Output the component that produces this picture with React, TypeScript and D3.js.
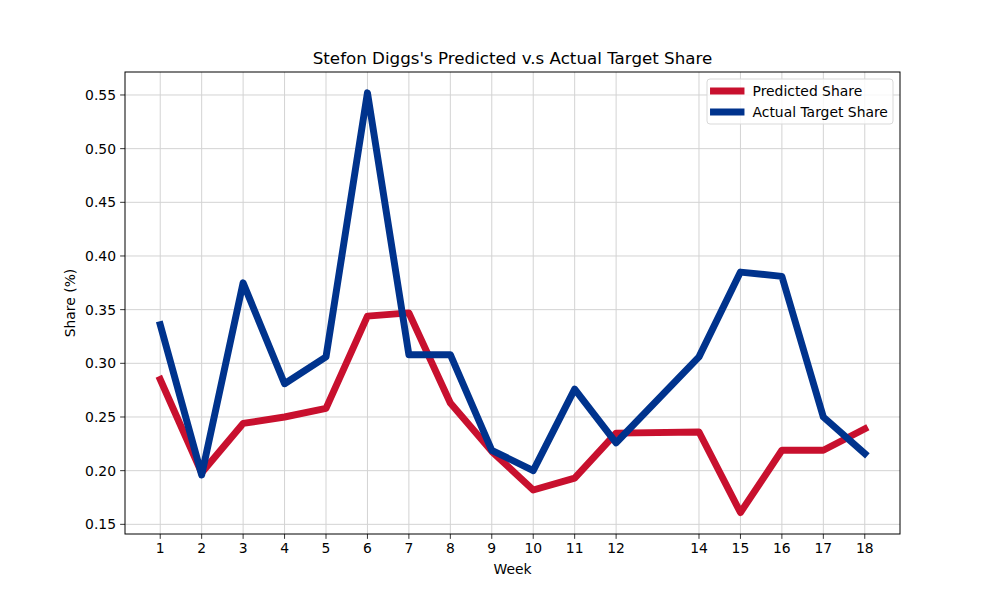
import React from "react";
import * as d3 from "d3";

const weeks = [1, 2, 3, 4, 5, 6, 7, 8, 9, 10, 11, 12, 14, 15, 16, 17, 18];
const predicted = [0.285, 0.198, 0.244, 0.25, 0.258, 0.344, 0.347, 0.263, 0.218, 0.182, 0.193, 0.235, 0.236, 0.161, 0.219, 0.219, 0.239];
const actual = [0.336, 0.196, 0.375, 0.281, 0.306, 0.552, 0.308, 0.308, 0.219, 0.2, 0.276, 0.226, 0.306, 0.385, 0.381, 0.25, 0.216];
const yTicks = [0.15, 0.2, 0.25, 0.3, 0.35, 0.4, 0.45, 0.5, 0.55];
const seriesNames = ["Predicted Share", "Actual Target Share"];
const colors = ["#C8102E", "#00338D"];

export default function App() {
  const W = 1000, H = 600;
  const L = 125, R = 900, T = 72, B = 534;
  const x = d3.scaleLinear().domain([0.15, 18.85]).range([L, R]);
  const y = d3.scaleLinear().domain([0.1410, 0.5714]).range([B, T]);
  const line = d3.line<number>().x((_, i) => x(weeks[i])).y((d) => y(d));
  const font = "DejaVu Sans, sans-serif";
  const lw = 6.94;
  return (
    <svg width={W} height={H} style={{ position: "absolute", left: 0, top: 0 }} fontFamily={font}>
      <rect width={W} height={H} fill="#fff" />
      <defs>
        <clipPath id="clip">
          <rect x={L} y={T} width={R - L} height={B - T} />
        </clipPath>
      </defs>
      {weeks.map((w) => (
        <line key={"gx" + w} x1={x(w)} x2={x(w)} y1={T} y2={B} stroke="#d3d3d3" strokeWidth={1} />
      ))}
      {yTicks.map((v) => (
        <line key={"gy" + v} x1={L} x2={R} y1={y(v)} y2={y(v)} stroke="#d3d3d3" strokeWidth={1} />
      ))}
      <g clipPath="url(#clip)">
        {[predicted, actual].map((s, k) => (
          <path key={k} d={line(s) || ""} fill="none" stroke={colors[k]} strokeWidth={lw} strokeLinejoin="round" strokeLinecap="square" />
        ))}
      </g>
      <rect x={L} y={T} width={R - L} height={B - T} fill="none" stroke="#000" strokeWidth={1} />
      {weeks.map((w) => (
        <g key={"tx" + w}>
          <line x1={x(w)} x2={x(w)} y1={B} y2={B + 4.86} stroke="#000" strokeWidth={0.8} />
          <text x={x(w)} y={B + 19} textAnchor="middle" fontSize={13.9}>{w}</text>
        </g>
      ))}
      {yTicks.map((v) => (
        <g key={"ty" + v}>
          <line x1={L - 4.86} x2={L} y1={y(v)} y2={y(v)} stroke="#000" strokeWidth={0.8} />
          <text x={L - 9} y={y(v)} dy="0.35em" textAnchor="end" fontSize={13.9}>{v.toFixed(2)}</text>
        </g>
      ))}
      <text x={(L + R) / 2} y={574} textAnchor="middle" fontSize={13.9}>Week</text>
      <text transform={`translate(75,${(T + B) / 2}) rotate(-90)`} textAnchor="middle" fontSize={13.9}>Share (%)</text>
      <text x={(L + R) / 2} y={64} textAnchor="middle" fontSize={16.7}>Stefon Diggs's Predicted v.s Actual Target Share</text>
      <rect x={707} y={79} width={186} height={45} rx={3} fill="#fff" fillOpacity={0.8} stroke="#d9d9d9" strokeWidth={1} />
      {seriesNames.map((n, k) => (
        <g key={n}>
          <line x1={713.5} x2={741} y1={91 + k * 21} y2={91 + k * 21} stroke={colors[k]} strokeWidth={lw} strokeLinecap="square" />
          <text x={752.5} y={91 + k * 21} dy="0.35em" fontSize={13.9}>{n}</text>
        </g>
      ))}
    </svg>
  );
}
